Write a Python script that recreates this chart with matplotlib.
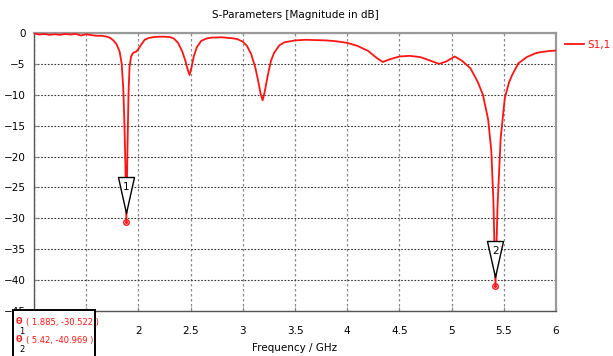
import numpy as np
import matplotlib
matplotlib.use('Agg')
import matplotlib.pyplot as plt
from matplotlib.path import Path
from matplotlib.patches import Rectangle

plt.rcParams['font.family'] = ['DejaVu Sans']

# S1,1 trace
freq = [1.0, 1.05, 1.1, 1.15, 1.2, 1.25, 1.3, 1.35, 1.4, 1.45, 1.5, 1.55, 1.6, 1.65,
        1.7, 1.73, 1.76, 1.79, 1.82, 1.84, 1.855, 1.865, 1.875, 1.885, 1.895, 1.905,
        1.915, 1.93, 1.95, 1.98, 2.0, 2.03, 2.06, 2.1, 2.15, 2.2, 2.25, 2.3, 2.34,
        2.38, 2.42, 2.45, 2.47, 2.49, 2.51, 2.53, 2.56, 2.6, 2.65, 2.7, 2.8, 2.9,
        2.95, 3.0, 3.04, 3.08, 3.12, 3.15, 3.17, 3.19, 3.21, 3.24, 3.27, 3.3, 3.35,
        3.4, 3.5, 3.6, 3.7, 3.8, 3.9, 4.0, 4.1, 4.2, 4.28, 4.34, 4.4, 4.5, 4.6, 4.7,
        4.8, 4.88, 4.95, 5.03, 5.1, 5.18, 5.25, 5.3, 5.35, 5.38, 5.4, 5.42, 5.44,
        5.47, 5.51, 5.55, 5.58, 5.64, 5.72, 5.8, 5.85, 5.9, 5.94, 6.0]
s11 = [-0.05, -0.25, -0.15, -0.3, -0.2, -0.3, -0.15, -0.25, -0.15, -0.4, -0.2, -0.35,
       -0.45, -0.45, -0.6, -0.8, -1.2, -1.8, -3.0, -5.0, -9.0, -14.0, -21.0, -30.5,
       -19.0, -10.0, -5.5, -3.8, -3.2, -3.0, -2.6, -1.8, -1.1, -0.8, -0.65, -0.6,
       -0.6, -0.65, -0.9, -1.6, -3.0, -4.5, -5.8, -6.8, -5.5, -3.8, -2.3, -1.3,
       -0.9, -0.75, -0.7, -0.85, -1.0, -1.4, -2.1, -3.4, -5.6, -8.0, -9.8, -10.9,
       -9.5, -6.8, -4.5, -3.2, -2.0, -1.5, -1.2, -1.1, -1.15, -1.2, -1.35, -1.6,
       -2.1, -2.9, -4.0, -4.7, -4.3, -3.8, -3.7, -3.9, -4.5, -5.0, -4.6, -3.8,
       -4.5, -5.7, -7.9, -10.0, -14.0, -19.0, -27.0, -40.97, -28.0, -17.0, -10.5,
       -8.0, -6.8, -4.9, -3.9, -3.3, -3.1, -3.0, -2.9, -2.85]

marker_freq = [1.885, 5.42]
marker_val = [-30.522, -40.969]
marker_names = ['1', '2']

x_ticks = [1, 1.5, 2, 2.5, 3, 3.5, 4, 4.5, 5, 5.5, 6]
# the first two labels sit under the marker readout box in the reference
x_tick_labels = ['', '', '2', '2.5', '3', '3.5', '4', '4.5', '5', '5.5', '6']
y_ticks = [0, -5, -10, -15, -20, -25, -30, -35, -40, -45]

fs = 7.5
red = '#ff1414'

fig = plt.figure(figsize=(6.13, 3.56), dpi=100)
ax = fig.add_axes([34 / 613, 45 / 356, 522 / 613, 278 / 356])

line, = ax.plot(freq, s11, color=red, lw=1.3, label='S1,1', zorder=3)

ax.set_xlim(1, 6)
ax.set_ylim(-45, 0)
ax.set_xticks(x_ticks)
ax.set_xticklabels(x_tick_labels)
ax.set_yticks(y_ticks)
ax.tick_params(labelsize=fs, length=3, direction='in', color='#888888')
ax.tick_params(axis='x', pad=11)
ax.tick_params(axis='y', pad=6)

ax.grid(axis='x', color='#8a8a8a', linestyle=(0, (2, 2)), lw=0.9)
ax.grid(axis='y', color='#333333', linestyle=(0, (1.5, 1.5)), lw=0.8)
for side in ['left', 'bottom']:
    ax.spines[side].set_color('#555555')
    ax.spines[side].set_linewidth(1.0)
for side in ['top', 'right']:
    ax.spines[side].set_color('#9a9a9a')
    ax.spines[side].set_linewidth(1.6)

ax.set_title('S-Parameters [Magnitude in dB]', fontsize=fs, pad=11)
ax.set_xlabel('Frequency / GHz', fontsize=fs, labelpad=5)

# marker triangles (pixel-sized custom path, tip above the point)
tri = Path([(-8, 45), (8, 45), (0, 9), (-8, 45)],
           [Path.MOVETO, Path.LINETO, Path.LINETO, Path.CLOSEPOLY])
ms = 2 * 45 * 72 / 100
for f, v, name in zip(marker_freq, marker_val, marker_names):
    ax.plot([f], [v], marker=tri, ms=ms, mfc='white', mec='black', mew=1.0,
            ls='none', zorder=4, clip_on=False)
    ax.plot([f], [v], marker='o', ms=4, mfc='none', mec=red, mew=1.0,
            ls='none', zorder=5)
    ax.plot([f], [v], marker='o', ms=1.2, color=red, ls='none', zorder=5)
    ax.annotate(name, (f, v), xytext=(0, 35 * 0.72), textcoords='offset points',
                ha='center', va='center', fontsize=fs, zorder=6)

leg = ax.legend(handles=[line], loc='center left', bbox_to_anchor=(1.017, 0.957),
                frameon=False, fontsize=fs, handlelength=1.8, handletextpad=0.4,
                borderaxespad=0, borderpad=0, labelcolor='linecolor')

# marker readout box at the lower left
fig.add_artist(Rectangle((13 / 613, -0.05), 82 / 613, 0.05 + 46 / 356,
                         transform=fig.transFigure, facecolor='white',
                         edgecolor='black', lw=1.4, zorder=10))
rows_y = [322, 340]
box_fs = 6
for (f, v, name), ry in zip(zip(marker_freq, marker_val, marker_names), rows_y):
    yy = 1 - ry / 356
    fig.text(16 / 613, yy, '\u0398', color=red, fontsize=5.5, ha='left', va='center',
             zorder=11, fontweight='bold')
    fig.text(19 / 613, yy - 9 / 356, name, color='black', fontsize=box_fs, ha='left',
             va='center', zorder=11)
    fig.text(26 / 613, yy, f'( {f:g}, {v:g} )', color=red, fontsize=box_fs, ha='left',
             va='center', zorder=11)

fig.savefig('out.png', dpi=100)
